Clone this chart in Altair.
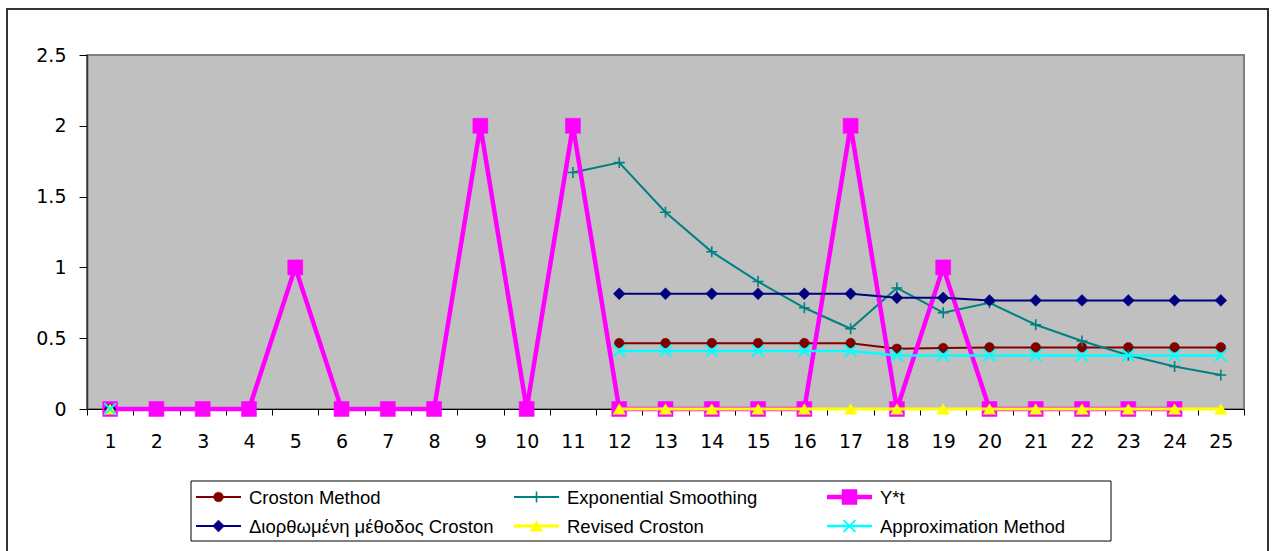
import altair as alt
import pandas as pd

# Periods on the category axis
periods = list(range(1, 26))

# Forecast series (None = no value for that period)
croston = [0] + [None] * 10 + [0.465] * 6 + [0.425, 0.43] + [0.435] * 6
exp_smoothing = [0] + [None] * 9 + [1.67, 1.74, 1.39, 1.11, 0.90, 0.715, 0.567,
                                    0.855, 0.68, 0.75, 0.595, 0.48, 0.38, 0.30, 0.24]
y_star = [0, 0, 0, 0, 1, 0, 0, 0, 2, 0, 2, 0, 0, 0, 0, 0, 2, 0, 1, 0, 0, 0, 0, 0, None]
corrected_croston = [0] + [None] * 10 + [0.814] * 6 + [0.785, 0.785] + [0.767] * 6
revised_croston = [0] + [None] * 10 + [0] * 14
approximation = [0] + [None] * 10 + [0.41] * 6 + [0.378] * 8

series_names = ["Croston Method", "Exponential Smoothing", "Y*t",
                "Διορθωμένη μέθοδος Croston", "Revised Croston", "Approximation Method"]
series_values = [croston, exp_smoothing, y_star, corrected_croston, revised_croston, approximation]

# Long table; a new segment starts after every gap so lines break there
rows = []
for name, values in zip(series_names, series_values):
    seg = 0
    prev_missing = False
    for t, v in zip(periods, values):
        if v is None:
            prev_missing = True
            continue
        if prev_missing:
            seg += 1
            prev_missing = False
        rows.append({"series": name, "t": t, "value": v, "segment": f"{name}-{seg}"})
df = pd.DataFrame(rows)

PLUS = "M-1,0L1,0M0,-1L0,1"
XMARK = "M-1,-1L1,1M-1,1L1,-1"

styles = {
    "Croston Method": dict(color="#800000", width=2, shape="circle", size=95, filled=True),
    "Exponential Smoothing": dict(color="#008080", width=2, shape=PLUS, size=120, filled=False, sw=1.6),
    "Y*t": dict(color="#FF00FF", width=4.5, shape="square", size=225, filled=True),
    "Διορθωμένη μέθοδος Croston": dict(color="#000080", width=2, shape="diamond", size=140, filled=True),
    "Revised Croston": dict(color="#FFFF00", width=3, shape="triangle-up", size=150, filled=True),
    "Approximation Method": dict(color="#00FFFF", width=2.5, shape=XMARK, size=140, filled=False, sw=2),
}

# Legend placement (column, row) in the boxed legend under the plot
legend_slots = {
    "Croston Method": (0, 0),
    "Exponential Smoothing": (1, 0),
    "Y*t": (2, 0),
    "Διορθωμένη μέθοδος Croston": (0, 1),
    "Revised Croston": (1, 1),
    "Approximation Method": (2, 1),
}
legend_col_x = [109, 427, 740]
legend_row_y = [442, 471]

FONT = "Liberation Sans"
AXIS_FONT = "DejaVu Sans"

x_enc = alt.X("t:O", bandPosition=0.5,
              scale=alt.Scale(type="band", domain=periods, paddingInner=0, paddingOuter=0),
              axis=alt.Axis(title=None, tickBand="extent", labelAngle=0, tickSize=6,
                            tickColor="#000000", domainColor="#000000", domainWidth=1,
                            labelFont=AXIS_FONT, labelFontSize=19, labelColor="#000000",
                            labelPadding=17, grid=False))
y_enc = alt.Y("value:Q",
              scale=alt.Scale(domain=[0, 2.5], nice=False, zero=True),
              axis=alt.Axis(title=None, values=[0, 0.5, 1, 1.5, 2, 2.5], format="~g",
                            tickSize=8, tickColor="#000000", domainColor="#333333",
                            domainWidth=1.5, labelFont=AXIS_FONT, labelFontSize=19,
                            labelColor="#000000", labelPadding=13, grid=False))

base = alt.Chart(df)
layers = []

for name in series_names:
    st = styles[name]
    sub = base.transform_filter(alt.datum.series == name)
    line = sub.mark_line(color=st["color"], strokeWidth=st["width"]).encode(
        x=x_enc, y=y_enc, detail="segment:N", order="t:O")
    if st["filled"]:
        pts = sub.mark_point(shape=st["shape"], size=st["size"], filled=True,
                             fill=st["color"], stroke=st["color"], strokeWidth=0.5, opacity=1)
    else:
        pts = sub.mark_point(shape=st["shape"], size=st["size"], filled=False,
                             stroke=st["color"], strokeWidth=st["sw"], opacity=1)
    pts = pts.encode(x=x_enc, y=y_enc)
    layers += [line, pts]

# Outer chart frame
frame = alt.Chart(pd.DataFrame({"k": [0]})).mark_rect(
    fill=None, stroke="#333333", strokeWidth=2).encode(
    x=alt.value(-80), x2=alt.value(1181), y=alt.value(-46), y2=alt.value(600))

# Legend box
legend_box = alt.Chart(pd.DataFrame({"k": [0]})).mark_rect(
    fill="#FFFFFF", stroke="#000000", strokeWidth=1).encode(
    x=alt.value(104), x2=alt.value(1024), y=alt.value(426), y2=alt.value(486))

legend_layers = [legend_box]
for name in series_names:
    st = styles[name]
    col, row = legend_slots[name]
    lx = legend_col_x[col]
    ly = legend_row_y[row]
    one = alt.Chart(pd.DataFrame({"series": [name]}))
    legend_layers.append(one.mark_rule(color=st["color"], strokeWidth=st["width"]).encode(
        x=alt.value(lx), x2=alt.value(lx + 45), y=alt.value(ly)))
    if st["filled"]:
        mk = one.mark_point(shape=st["shape"], size=st["size"], filled=True,
                            fill=st["color"], stroke=st["color"], strokeWidth=0.5, opacity=1)
    else:
        mk = one.mark_point(shape=st["shape"], size=st["size"], filled=False,
                            stroke=st["color"], strokeWidth=st["sw"], opacity=1)
    legend_layers.append(mk.encode(x=alt.value(lx + 22.5), y=alt.value(ly)))
    legend_layers.append(one.mark_text(align="left", baseline="middle", font=FONT,
                                       fontSize=18.5, color="#000000").encode(
        x=alt.value(lx + 53), y=alt.value(ly + 1), text="series:N"))

chart = alt.layer(*layers, frame, *legend_layers).properties(
    width=1157, height=354,
    autosize=alt.AutoSizeParams(type="none"),
    padding={"left": 87, "top": 55, "right": 31, "bottom": 142},
    background="#FFFFFF",
).configure_view(fill="#C0C0C0", stroke="#808080", strokeWidth=2)

chart.save("out.html", embed_options={"renderer": "svg", "actions": False})
